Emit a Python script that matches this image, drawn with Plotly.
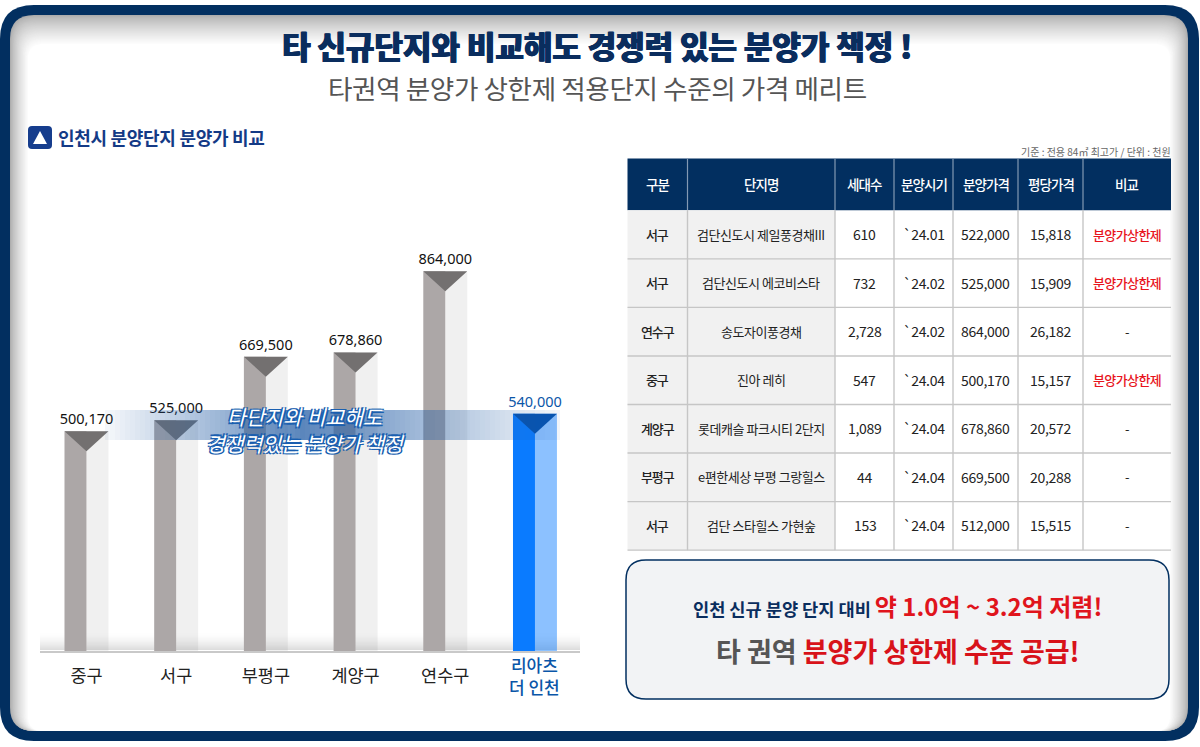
import plotly.graph_objects as go

W, H = 1200, 747
FONT = "Noto Sans CJK KR"

districts = ["중구", "서구", "부평구", "계양구", "연수구", "리아츠<br>더 인천"]
prices = [500170, 525000, 669500, 678860, 864000, 540000]

table_header = ["구분", "단지명", "세대수", "분양시기", "분양가격", "평당가격", "비교"]
col_area = ["서구", "서구", "연수구", "중구", "계양구", "부평구", "서구"]
col_name = ["검단신도시 제일풍경채III", "검단신도시 에코비스타", "송도자이풍경채", "진아 레히",
            "롯데캐슬 파크시티 2단지", "e편한세상 부평 그랑힐스", "검단 스타힐스 가현숲"]
col_units = ["610", "732", "2,728", "547", "1,089", "44", "153"]
col_date = ["`24.01", "`24.02", "`24.02", "`24.04", "`24.04", "`24.04", "`24.04"]
col_price = ["522,000", "525,000", "864,000", "500,170", "678,860", "669,500", "512,000"]
col_pyeong = ["15,818", "15,909", "26,182", "15,157", "20,572", "20,288", "15,515"]
col_note = ["분양가상한제", "분양가상한제", "-", "분양가상한제", "-", "-", "-"]

NAVY = "#022f60"


def px(x):
    return x / W


def py(y):
    return 1 - y / H


def rrect(x0, y0, x1, y1, r):
    a, b, c, d = px(x0), py(y0), px(x1), py(y1)
    rx, ry = r / W, r / H
    return (f"M{a + rx},{b} L{c - rx},{b} Q{c},{b} {c},{b - ry} L{c},{d + ry} Q{c},{d} {c - rx},{d} "
            f"L{a + rx},{d} Q{a},{d} {a},{d + ry} L{a},{b - ry} Q{a},{b} {a + rx},{b} Z")


def shape_path(path, fill, line=None, width=0, layer="below"):
    return dict(type="path", path=path, xref="paper", yref="paper", fillcolor=fill,
                line=dict(color=line or fill, width=width), layer=layer)


def shape_rect(x0, y0, x1, y1, fill, opacity=1, layer="below"):
    return dict(type="rect", xref="paper", yref="paper", x0=px(x0), x1=px(x1), y0=py(y1), y1=py(y0),
                fillcolor=fill, opacity=opacity, line=dict(width=0), layer=layer)


shapes = [shape_path(rrect(0, 5, 1199, 741, 34), NAVY)]
# inner shadow of the frame
N = 30
for i in range(N):
    t = (i / (N - 1)) ** 0.75
    v = int(172 + (255 - 172) * t)
    ins = i * 0.62
    shapes.append(shape_path(rrect(10 + ins, 15 + i, 1188 - ins, 731, max(24 - i * 0.3, 14)), f"rgb({v},{v},{v})"))

# reflection above the axis line
for i in range(18):
    a = (i / 17) ** 1.6 * 0.2
    shapes.append(shape_rect(40, 632 + i, 580, 633 + i, "#555555", a))

# section icon
shapes.append(shape_path(rrect(28, 126, 52, 149, 4), "#163d8d"))
shapes.append(shape_path(f"M{px(40)},{py(131)} L{px(47)},{py(144)} L{px(33)},{py(144)} Z", "#ffffff"))

# callout
shapes.append(shape_path(rrect(626, 560, 1169, 699, 20), "#f2f3f5", NAVY, 1.5))

# translucent band across the bars
band_x0, band_x1, peak = 105, 560, 300
for x in range(band_x0, band_x1, 5):
    if x < peak:
        a = (x - band_x0) / (peak - band_x0)
    else:
        a = (band_x1 - x) / (band_x1 - peak)
    shapes.append(shape_rect(x, 410, x + 5, 440, "#2a62a8", 0.05 + 0.72 * a, "above"))

# table grid
edges = [627.5, 687.5, 835, 894, 953, 1018, 1083, 1171]
TOP, HEAD_BOTTOM, ROW = 158.5, 210.3, 48.55
n_rows = len(col_area)
bottom = HEAD_BOTTOM + ROW * n_rows
shapes.append(shape_rect(edges[0], TOP, edges[-1], HEAD_BOTTOM, NAVY))
shapes.append(shape_rect(edges[0], HEAD_BOTTOM, edges[2], bottom, "#f1f1f1"))
for e in edges[1:-1]:
    shapes.append(shape_rect(e - 0.6, TOP, e + 0.6, HEAD_BOTTOM, "#8399b3"))
    shapes.append(shape_rect(e - 0.7, HEAD_BOTTOM, e + 0.7, bottom, "#c6c6c6"))
for r in range(1, n_rows + 1):
    y = HEAD_BOTTOM + ROW * r
    shapes.append(shape_rect(edges[0], y - 0.7, edges[-1], y + 0.7, "#c6c6c6"))

Y_MAX = 1117000
UNIT = (651 - 160) / Y_MAX
BAR = 0.245
TRI = 20 / UNIT
LABEL_GAP = 3.5 / UNIT

n = len(prices)
xs = list(range(n))
dark = ["#aca7a7"] * 5 + ["#0a7bff"]
light = ["rgba(110,110,110,0.10)"] * 5 + ["rgba(10,123,255,0.47)"]

fig = go.Figure()
fig.add_bar(x=xs, y=prices, width=BAR, offset=0, marker=dict(color=light, line=dict(width=0)), hoverinfo="skip")
fig.add_bar(x=xs, y=prices, width=BAR, offset=-BAR, marker=dict(color=dark, line=dict(width=0)), hoverinfo="skip")

for idx, color in ((xs[:5], "#737070"), (xs[5:], "#0552b0")):
    tx, ty = [], []
    for i in idx:
        tx += [i - BAR, i + BAR, i, i - BAR, None]
        ty += [prices[i], prices[i], prices[i] - TRI, prices[i], None]
    fig.add_scatter(x=tx, y=ty, mode="lines", fill="toself", fillcolor=color, line=dict(width=0),
                    hoverinfo="skip", showlegend=False)

fig.add_scatter(x=xs, y=[p + LABEL_GAP for p in prices], mode="text", text=[f"{p:,}" for p in prices],
                textposition="top center",
                textfont=dict(family="Noto Sans", size=14.5, color=["#111111"] * 5 + ["#0a56a8"]),
                hoverinfo="skip", showlegend=False)


def spaced(text, sp):
    return f"<span style='letter-spacing:{sp}px'>{text}</span>"


ann = [
    dict(x=px(597), y=py(46), text=spaced("타 신규단지와 비교해도 경쟁력 있는 분양가 책정 !", -0.3),
         font=dict(size=31.3, color="#0a2d5e", weight=900, shadow="0.5px 0 0 #0a2d5e, -0.5px 0 0 #0a2d5e")),
    dict(x=px(597), y=py(87.5), text=spaced("타권역 분양가 상한제 적용단지 수준의 가격 메리트", -0.4),
         font=dict(size=26.6, color="#555555")),
    dict(x=px(56), y=py(136.5), xanchor="left", text=spaced("인천시 분양단지 분양가 비교", -0.3),
         font=dict(size=18, color="#143a86", weight=700)),
    dict(x=px(1173), y=py(152), xanchor="right", text="기준 : 전용 84㎡ 최고가 / 단위 : 천원",
         font=dict(size=10, color="#666666")),
    dict(x=px(305.5), y=py(429), text="타단지와 비교해도<br>경쟁력있는 분양가 책정",
         font=dict(size=20.4, color="#ffffff", style="italic",
                   shadow="1.5px 1.5px 0 #1a5fb0, -1.5px -1.5px 0 #1a5fb0, 1.5px -1.5px 0 #1a5fb0, -1.5px 1.5px 0 #1a5fb0")),
    dict(x=px(897.5), y=py(605),
         text="<b><span style='color:#0a2d5e;font-size:17.6px'>인천 신규 분양 단지 대비 </span>약 1.0억 ~ 3.2억 저렴!</b>",
         font=dict(size=24, color="#e0141c")),
    dict(x=px(897.5), y=py(650.5),
         text="<b><span style='color:#555555'>타 권역 </span>분양가 상한제 수준 공급!</b>",
         font=dict(size=27, color="#d8121a")),
    dict(x=5, xref="x", y=py(675), text=districts[5], font=dict(size=17, color="#0a56a8", weight=500)),
]

# table text
for c, label in enumerate(table_header):
    ann.append(dict(x=px((edges[c] + edges[c + 1]) / 2), y=py((TOP + HEAD_BOTTOM) / 2),
                    text=spaced(label, -0.9), font=dict(size=13.5, color="#ffffff", weight=500)))
columns = [col_area, col_name, col_units, col_date, col_price, col_pyeong, col_note]
for c, col in enumerate(columns):
    for r, value in enumerate(col):
        numeric = c in (2, 3, 4, 5)
        red = c == 6 and value != "-"
        sp = -0.3 if numeric else (-1.1 if c == 0 else (-0.45 if c == 1 else -0.6))
        ann.append(dict(x=px((edges[c] + edges[c + 1]) / 2), y=py(HEAD_BOTTOM + ROW * (r + 0.5) - 0.5),
                        text=spaced(value, sp),
                        font=dict(size=14 if numeric else 13, color="#e8141c" if red else "#222222",
                                  weight=500 if red or c == 0 else 400)))

for a in ann:
    a.setdefault("xref", "paper")
    a.update(yref="paper", showarrow=False, yanchor="middle")
    a.setdefault("xanchor", "center")
    a["font"].setdefault("family", FONT)

fig.update_layout(
    width=W, height=H,
    margin=dict(l=0, r=0, t=0, b=0), paper_bgcolor="#ffffff", plot_bgcolor="rgba(0,0,0,0)",
    showlegend=False, barmode="overlay", shapes=shapes, annotations=ann,
    xaxis=dict(domain=[px(40), px(580)], range=[-0.518, 5.502], showgrid=False, zeroline=False,
               showline=True, linecolor="#c9c9c9", linewidth=2,
               tickmode="array", tickvals=xs[:5], ticktext=districts[:5], ticks="", ticklabelstandoff=8,
               tickfont=dict(family=FONT, size=17.5, color="#222222"), fixedrange=True),
    yaxis=dict(domain=[py(651), py(160)], range=[0, Y_MAX], visible=False, fixedrange=True),
)
fig.write_html("out.html", config=dict(displayModeBar=False),
               post_script="document.body.style.margin='0';")
